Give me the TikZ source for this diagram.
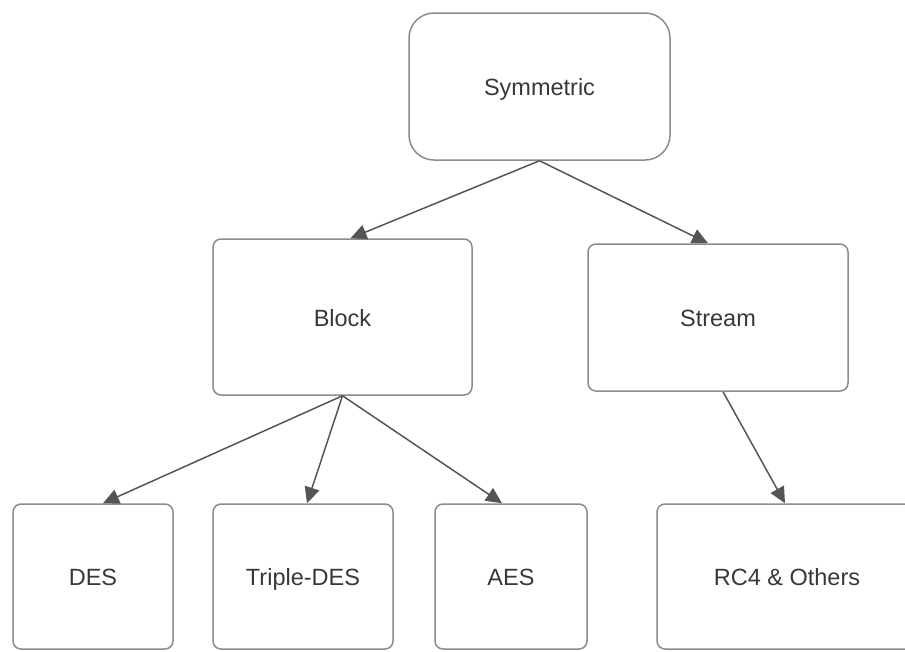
\documentclass[tikz,border=0pt]{standalone}
\usepackage{fontspec}
\setmainfont{Liberation Sans}
\usetikzlibrary{arrows.meta}
\definecolor{boxline}{HTML}{8C8C8C}
\definecolor{arrowline}{HTML}{555555}
\definecolor{txt}{HTML}{383838}
\tikzset{
  box/.style={draw=boxline, line width=1.5pt, rounded corners=8pt, fill=white,
    text=txt, font=\fontsize{23.5}{27}\selectfont, inner sep=0pt,
    text height=20pt, text depth=2pt},
  conn/.style={draw=arrowline, line width=1.5pt, -{Triangle[length=16pt,width=15pt]}},
}
\begin{document}
\begin{tikzpicture}[x=1pt,y=-1pt]
\useasboundingbox (0,0) rectangle (905,651);
\node[box, rounded corners=25pt, minimum width=261pt, minimum height=147pt] (sym) at (539.5,86.5) {Symmetric};
\node[box, minimum width=259pt, minimum height=156pt] (block) at (342.5,317) {Block};
\node[box, minimum width=260pt, minimum height=147pt] (stream) at (718,317.5) {Stream};
\node[box, minimum width=160pt, minimum height=145pt] (des) at (93,576.5) {DES};
\node[box, minimum width=180pt, minimum height=145pt] (tdes) at (303,576.5) {Triple-DES};
\node[box, minimum width=152pt, minimum height=145pt] (aes) at (511,576.5) {AES};
\node[box, minimum width=260pt, minimum height=145pt] (rc4) at (787,576.5) {RC4 \& Others};
\draw[conn] (sym.south) -- ([xshift=8pt]block.north);
\draw[conn] (sym.south) -- ([xshift=-10pt]stream.north);
\draw[conn] (block.south) -- ([xshift=10pt]des.north);
\draw[conn] (block.south) -- ([xshift=4pt]tdes.north);
\draw[conn] (block.south) -- ([xshift=-9pt]aes.north);
\draw[conn] ([xshift=5pt]stream.south) -- ([xshift=-2pt]rc4.north);
\end{tikzpicture}
\end{document}
